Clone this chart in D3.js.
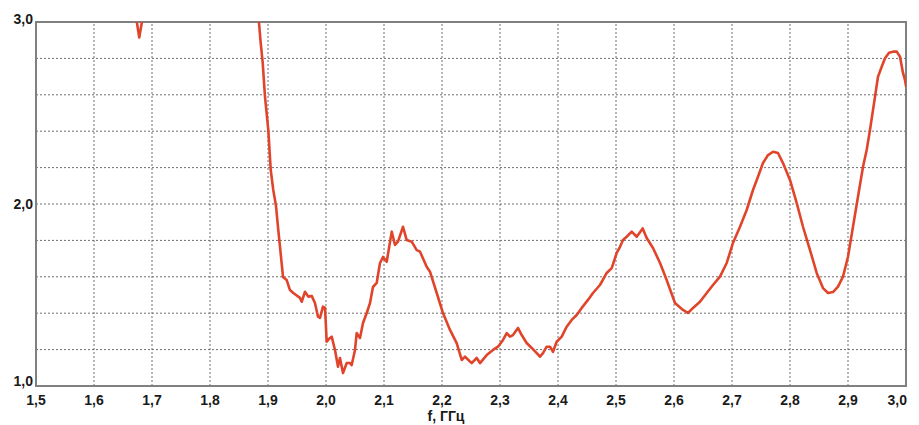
<!DOCTYPE html>
<html>
<head>
<meta charset="utf-8">
<script src="https://cdn.jsdelivr.net/npm/d3@7/dist/d3.min.js"></script>
<style>
  html, body { margin: 0; padding: 0; background: #ffffff; }
  svg { display: block; }
</style>
</head>
<body>
<svg id="chart" width="919" height="425"></svg>
<script>
// ---- data ----
const xTicks = [1.5, 1.6, 1.7, 1.8, 1.9, 2.0, 2.1, 2.2, 2.3, 2.4, 2.5, 2.6, 2.7, 2.8, 2.9, 3.0];
const yTickLabels = [1.0, 2.0, 3.0];
const yGridValues = [1.0, 1.2, 1.4, 1.6, 1.8, 2.0, 2.2, 2.4, 2.6, 2.8, 3.0];
const xAxisTitle = "f, ГГц";

// segment near 1.68 GHz (dips below 3.0)
const freqA = [1.669, 1.678, 1.688];
const vswrA = [3.10, 2.915, 3.10];

// main segment
const freqB = [1.882, 1.8845, 1.8874, 1.8909, 1.8948, 1.9005, 1.9047, 1.9091, 1.9138, 1.9172, 1.9207,
  1.9259, 1.9322, 1.9379, 1.9436, 1.9552, 1.9581, 1.9638, 1.9695, 1.9753, 1.9810, 1.9862, 1.9897,
  1.9948, 1.9983, 2.0012, 2.0069, 2.0098, 2.0155, 2.0207, 2.0241, 2.0293, 2.0357, 2.0414, 2.0443,
  2.0500, 2.0529, 2.0586, 2.0638, 2.0702, 2.0759, 2.0810, 2.0874, 2.0931, 2.0983, 2.1047, 2.1133,
  2.1190, 2.1241, 2.1328, 2.1391, 2.1478, 2.1564, 2.1621, 2.1736, 2.1793, 2.1909, 2.2017, 2.2138,
  2.2253, 2.2340, 2.2397, 2.2512, 2.2598, 2.2655, 2.2771, 2.2879, 2.2966, 2.3052, 2.3116, 2.3172,
  2.3224, 2.3310, 2.3374, 2.3460, 2.3547, 2.3633, 2.3690, 2.3741, 2.3805, 2.3862, 2.3914, 2.3977,
  2.4064, 2.4150, 2.4236, 2.4322, 2.4409, 2.4517, 2.4603, 2.4724, 2.4840, 2.4926, 2.5012, 2.5069,
  2.5121, 2.5184, 2.5271, 2.5357, 2.5460, 2.5529, 2.5638, 2.5759, 2.5874, 2.6017, 2.6155, 2.6241,
  2.6328, 2.6448, 2.6564, 2.6672, 2.6793, 2.6909, 2.7017, 2.7138, 2.7253, 2.7362, 2.7448, 2.7534,
  2.7621, 2.7707, 2.7793, 2.7879, 2.8000, 2.8116, 2.8224, 2.8345, 2.8460, 2.8569, 2.8655, 2.8741,
  2.8828, 2.8914, 2.9000, 2.9086, 2.9172, 2.9259, 2.9322, 2.9379, 2.9466, 2.9517, 2.9581, 2.9638,
  2.9707, 2.9776, 2.9840, 2.9897, 2.9948, 2.9983, 3.0000];
const vswrB = [3.10, 2.996, 2.885, 2.775, 2.590, 2.407, 2.187, 2.077, 1.989, 1.874, 1.764,
  1.599, 1.582, 1.527, 1.511, 1.484, 1.463, 1.518, 1.491, 1.495, 1.456, 1.381, 1.374,
  1.436, 1.429, 1.243, 1.264, 1.271, 1.198, 1.106, 1.154, 1.071, 1.126, 1.126, 1.115,
  1.198, 1.291, 1.264, 1.346, 1.401, 1.456, 1.544, 1.566, 1.676, 1.709, 1.683, 1.848,
  1.775, 1.793, 1.875, 1.802, 1.793, 1.747, 1.738, 1.655, 1.628, 1.511, 1.401, 1.308,
  1.236, 1.143, 1.161, 1.126, 1.154, 1.126, 1.170, 1.198, 1.216, 1.253, 1.291, 1.271,
  1.280, 1.319, 1.280, 1.236, 1.209, 1.181, 1.161, 1.181, 1.216, 1.216, 1.188, 1.243,
  1.271, 1.326, 1.363, 1.390, 1.429, 1.473, 1.511, 1.555, 1.621, 1.648, 1.731, 1.765,
  1.802, 1.820, 1.848, 1.820, 1.866, 1.813, 1.758, 1.676, 1.582, 1.456, 1.418, 1.401,
  1.429, 1.463, 1.511, 1.555, 1.601, 1.676, 1.786, 1.875, 1.967, 2.077, 2.150, 2.225,
  2.269, 2.287, 2.280, 2.225, 2.132, 2.005, 1.875, 1.747, 1.621, 1.538, 1.511, 1.516,
  1.546, 1.601, 1.710, 1.875, 2.040, 2.205, 2.297, 2.407, 2.590, 2.699, 2.754, 2.801,
  2.831, 2.837, 2.837, 2.809, 2.720, 2.681, 2.648];

// ---- layout ----
const W = 919, H = 425;
const margin = { left: 36, top: 22, right: 13, bottom: 39 };
const svg = d3.select("#chart");
const x = d3.scaleLinear().domain([1.5, 3.0]).range([margin.left, W - margin.right]);
const y = d3.scaleLinear().domain([1.0, 3.0]).range([H - margin.bottom, margin.top]);
const fmt = v => d3.format(".1f")(v).replace(".", ",");
const font = "'Liberation Sans', Arial, sans-serif";

svg.append("rect").attr("width", W).attr("height", H).attr("fill", "#ffffff");

// grid
const grid = svg.append("g");
grid.selectAll("line.v").data(xTicks.slice(1, -1)).join("line")
  .attr("x1", d => x(d)).attr("x2", d => x(d))
  .attr("y1", y(1.0)).attr("y2", y(3.0))
  .attr("stroke", "#6e6e6e").attr("stroke-width", 1).attr("stroke-dasharray", "2,2");
grid.selectAll("line.h").data(yGridValues.slice(1, -1)).join("line")
  .attr("x1", x(1.5)).attr("x2", x(3.0))
  .attr("y1", d => y(d)).attr("y2", d => y(d))
  .attr("stroke", "#6e6e6e").attr("stroke-width", 1).attr("stroke-dasharray", "2,2");

// frame
svg.append("rect")
  .attr("x", x(1.5)).attr("y", y(3.0))
  .attr("width", x(3.0) - x(1.5)).attr("height", y(1.0) - y(3.0))
  .attr("fill", "none").attr("stroke", "#808080").attr("stroke-width", 2);

// clip
svg.append("clipPath").attr("id", "plotclip").append("rect")
  .attr("x", x(1.5)).attr("y", y(3.0))
  .attr("width", x(3.0) - x(1.5)).attr("height", y(1.0) - y(3.0));

const line = d3.line().x(d => x(d[0])).y(d => y(d[1]));
const segA = freqA.map((f, i) => [f, vswrA[i]]);
const segB = freqB.map((f, i) => [f, vswrB[i]]);
const curves = svg.append("g").attr("clip-path", "url(#plotclip)");
[segA, segB].forEach(seg => {
  curves.append("path").datum(seg).attr("d", line)
    .attr("fill", "none").attr("stroke", "#e0452b").attr("stroke-width", 2.6)
    .attr("stroke-linejoin", "round").attr("stroke-linecap", "round");
});

// x tick labels
svg.append("g").selectAll("text").data(xTicks).join("text")
  .attr("x", (d, i) => i === xTicks.length - 1 ? x(d) + 1 : x(d))
  .attr("y", y(1.0) + 19)
  .attr("text-anchor", (d, i) => i === xTicks.length - 1 ? "end" : "middle")
  .attr("font-family", font).attr("font-weight", "bold").attr("font-size", 14)
  .attr("fill", "#1a1a1a")
  .text(fmt);

// y tick labels
svg.append("g").selectAll("text").data(yTickLabels).join("text")
  .attr("x", margin.left - 3)
  .attr("y", d => y(d) + (d === 1.0 ? 0 : d === 3.0 ? 2 : 5))
  .attr("text-anchor", "end")
  .attr("font-family", font).attr("font-weight", "bold").attr("font-size", 14)
  .attr("fill", "#1a1a1a")
  .text(fmt);

// axis title
svg.append("text")
  .attr("x", 446).attr("y", 421)
  .attr("text-anchor", "middle")
  .attr("font-family", font).attr("font-weight", "bold").attr("font-size", 14)
  .attr("fill", "#1a1a1a")
  .text(xAxisTitle);
</script>
</body>
</html>
